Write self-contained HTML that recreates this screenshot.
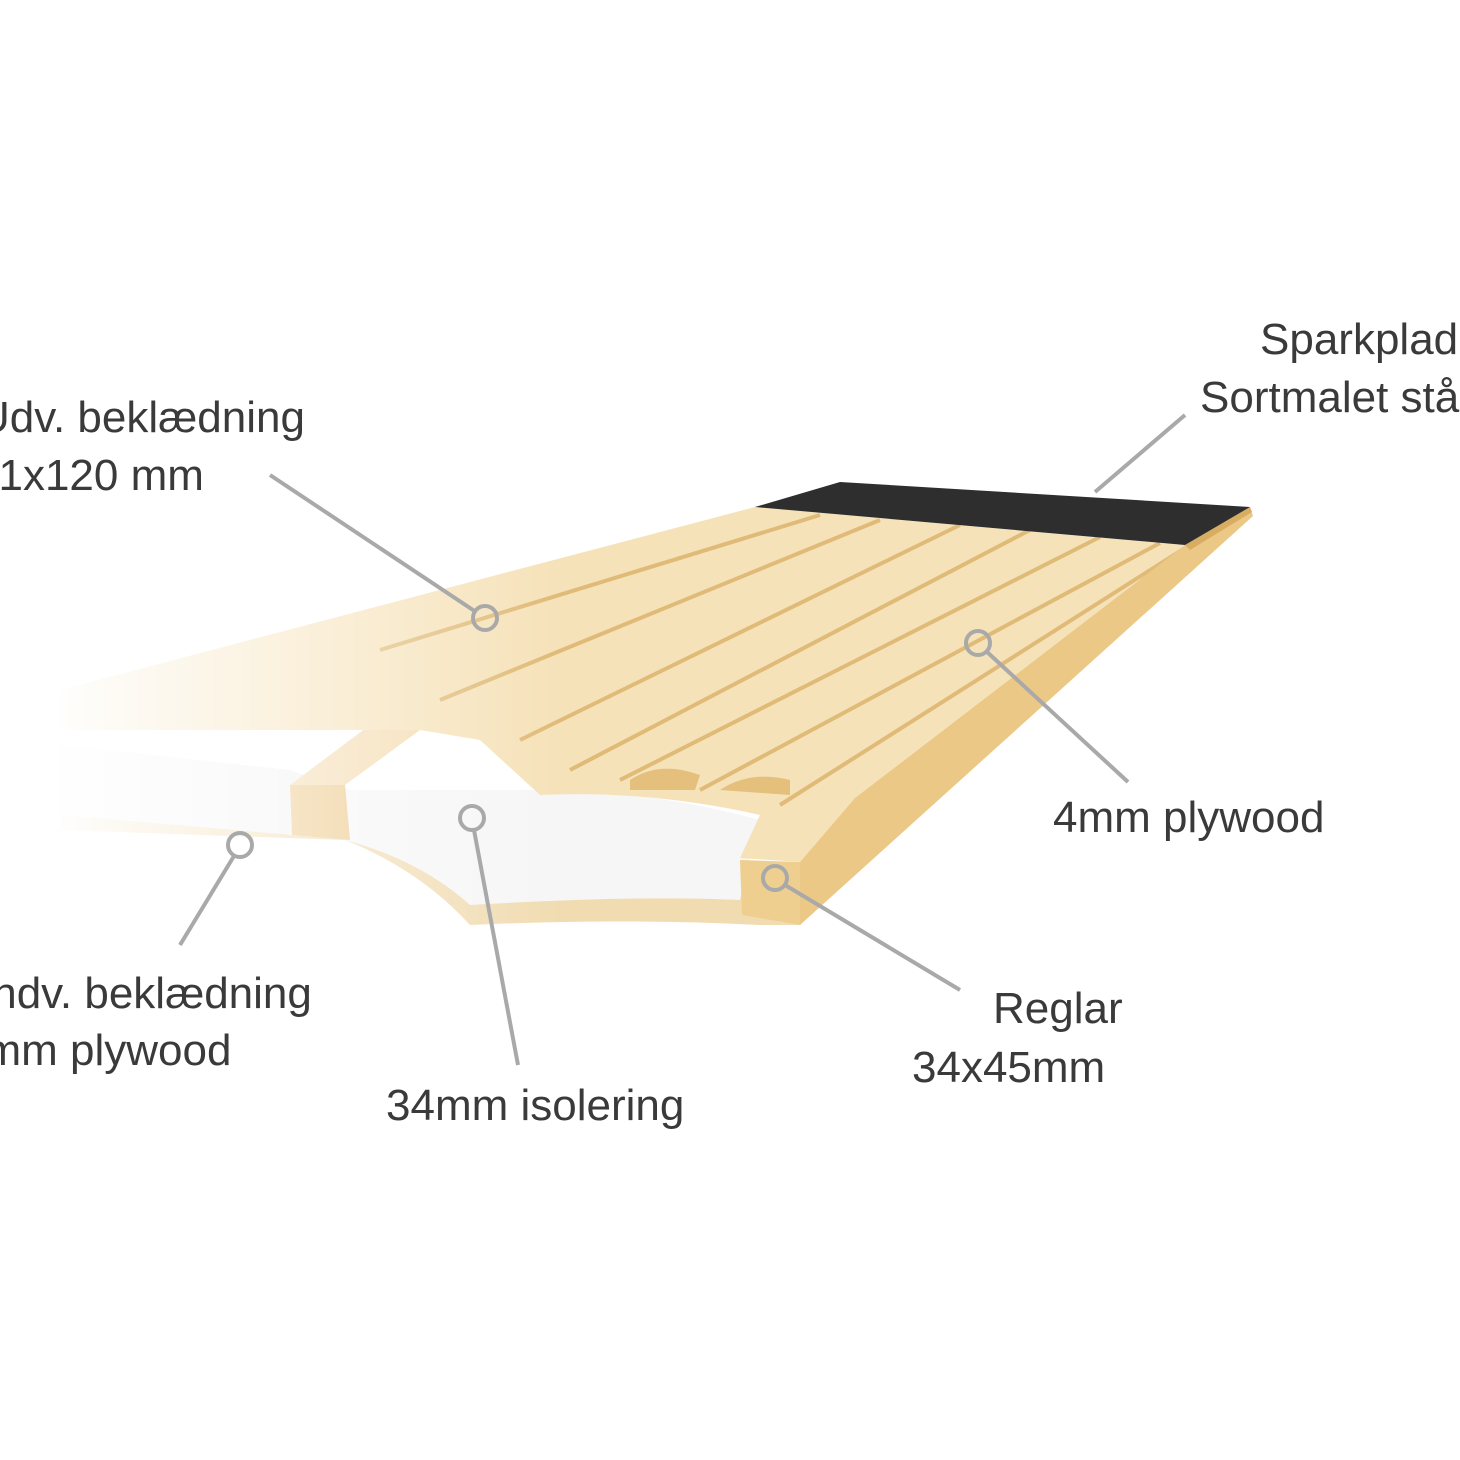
<!DOCTYPE html>
<html><head><meta charset="utf-8"><style>
html,body{margin:0;padding:0;background:#fff;width:1460px;height:1460px;overflow:hidden}
svg{display:block}
text{font-family:"Liberation Sans",sans-serif;font-size:44px;fill:#3a3a3a}
</style></head><body>
<svg width="1460" height="1460" viewBox="0 0 1460 1460">
<defs>
<linearGradient id="fadeL" x1="40" y1="0" x2="560" y2="0" gradientUnits="userSpaceOnUse">
<stop offset="0" stop-color="#fff" stop-opacity="1"/>
<stop offset="1" stop-color="#fff" stop-opacity="0"/>
</linearGradient>
</defs>
<path d="M60,800 L745,858 L800,925 L760,925 Q620,918 470,925 Q420,870 345,840 L60,830 Z" fill="#f1dcb2"/>
<path d="M60,745 L290,770 L350,790 L350,840 L60,815 Z" fill="#f3f3f3"/>
<path d="M345,790 L540,790 Q650,790 760,820 L740,900 Q640,895 470,905 Q420,860 345,840 Z" fill="#f6f6f6"/>
<path d="M290,785 L345,785 L350,840 L292,835 Z" fill="#ecc98a"/>
<path d="M290,785 L345,785 L420,730 L370,725 Z" fill="#f4dbb0"/>
<path d="M740,860 L800,862 L800,925 L742,915 Z" fill="#efcf90"/>
<path d="M755,507 L1185,545 L855,798 L800,862 L740,858 L760,815 Q650,790 540,795 L480,740 L420,730 L60,730 L60,690 Z" fill="#f6e2b9"/>
<g stroke="#e0bb78" stroke-width="4" fill="none">
<line x1="820" y1="515" x2="380" y2="650"/>
<line x1="880" y1="520" x2="440" y2="700"/>
<line x1="960" y1="525" x2="520" y2="740"/>
<line x1="1030" y1="530" x2="570" y2="770"/>
<line x1="1100" y1="537" x2="620" y2="780"/>
<line x1="1160" y1="543" x2="700" y2="790"/>
<line x1="1185" y1="548" x2="780" y2="805"/>
</g>
<path d="M630,780 Q660,760 700,775 L695,790 L630,790 Z" fill="#e5c07d"/>
<path d="M720,790 Q750,770 790,780 L790,795 Z" fill="#e5c07d"/>
<path d="M1185,545 L1250,507 L1253,516 L800,925 L800,862 L855,798 Z" fill="#ebc886"/>
<path d="M1185,545 L1250,507 L1252,512 L1190,550 Z" fill="#d8ad62"/>
<path d="M755,507 L840,482 L1250,507 L1185,545 Z" fill="#2e2e2e"/>
<rect x="0" y="560" width="560" height="420" fill="url(#fadeL)"/>
<g stroke="#a9a9a9" stroke-width="4" fill="none">
<line x1="270" y1="475" x2="476" y2="612"/>
<circle cx="485" cy="618" r="12"/>
<line x1="1185" y1="415" x2="1095" y2="492"/>
<line x1="986" y1="651" x2="1128" y2="782"/>
<circle cx="978" cy="643" r="12"/>
<line x1="785" y1="885" x2="960" y2="990"/>
<circle cx="775" cy="878" r="12"/>
<line x1="474" y1="830" x2="518" y2="1065"/>
<circle cx="472" cy="818" r="12"/>
<line x1="234" y1="856" x2="180" y2="945"/>
<circle cx="240" cy="845" r="12"/>
</g>
<text x="1260" y="354">Sparkplade</text>
<text x="1200" y="412">Sortmalet stål</text>
<text x="-22" y="432">Udv. beklædning</text>
<text x="-26" y="490">41x120 mm</text>
<text x="1053" y="832">4mm plywood</text>
<text x="993" y="1023">Reglar</text>
<text x="912" y="1082">34x45mm</text>
<text x="-20" y="1008">Indv. beklædning</text>
<text x="-40" y="1065">4mm plywood</text>
<text x="386" y="1120">34mm isolering</text>
</svg>
</body></html>
